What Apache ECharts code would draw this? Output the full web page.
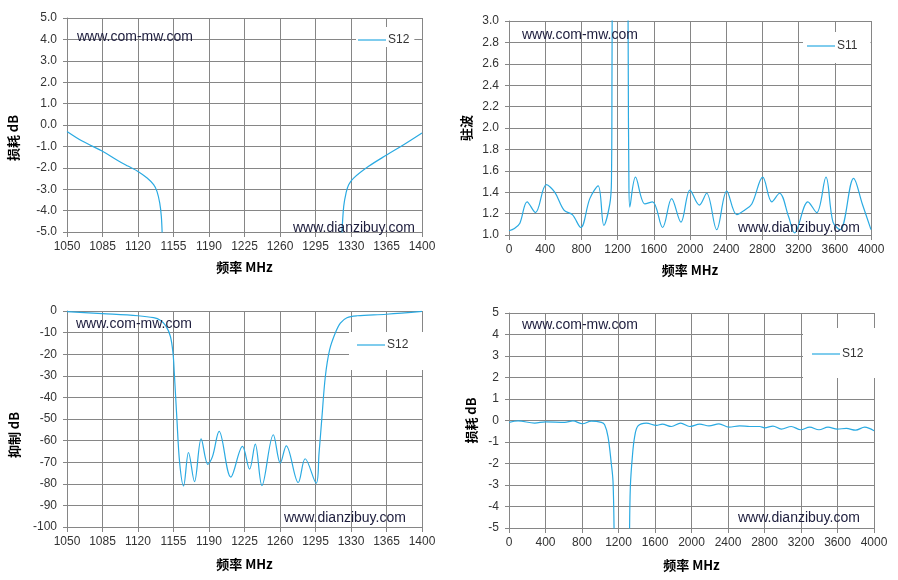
<!DOCTYPE html>
<html>
<head>
<meta charset="utf-8">
<title>滤波器测试曲线</title>
<script src="https://cdn.jsdelivr.net/npm/echarts@6/dist/echarts.min.js"></script>
<style>
html,body{margin:0;padding:0;background:#fff;}
#main{width:898px;height:580px;}
</style>
</head>
<body>
<div id="main"></div>
<script>
// 通带损耗 S12 (1050-1400MHz)，null 处断开
const passFreq = [1050, 1065, 1085, 1100, 1110, 1120, 1129, 1135.4, 1138.7, 1141.4, 1143, 1144, 1230,
                  1320.8, 1322.8, 1325.1, 1327.7, 1332.6, 1347.4, 1365.5, 1381.9, 1400];
const passLoss = [-0.3, -0.75, -1.23, -1.66, -1.92, -2.17, -2.48, -2.79, -3.1, -3.64, -4.27, -5.3, null,
                  -5.3, -3.8, -3.18, -2.79, -2.48, -1.93, -1.39, -0.92, -0.37];

// 驻波 S11 (0-4000MHz)
const vswrFreq = [0, 60, 120, 200, 292, 413, 505, 610, 700, 793, 893, 985, 1048, 1114, 1132, 1138, 1141, 1230,
                  1314, 1318, 1324, 1335, 1398, 1502, 1587, 1697, 1797, 1900, 2000, 2103, 2184, 2295, 2406,
                  2517, 2600, 2683, 2804, 2904, 2989, 3090, 3155, 3303, 3400, 3502, 3580, 3660, 3808, 3904, 4000];
const vswrValue = [1.04, 1.06, 1.11, 1.31, 1.21, 1.47, 1.40, 1.23, 1.19, 1.07, 1.34, 1.46, 1.09, 1.29, 1.5, 2.5, 3.5, null,
                   3.5, 2.5, 1.6, 1.26, 1.54, 1.29, 1.31, 1.07, 1.34, 1.12, 1.42, 1.28, 1.39, 1.05, 1.41,
                   1.19, 1.23, 1.29, 1.54, 1.31, 1.39, 1.17, 1.02, 1.31, 1.21, 1.54, 1.12, 1.05, 1.53, 1.29, 1.05];

// 带外抑制 S12 (1050-1400MHz)
const rejFreq = [1050, 1085, 1120, 1135.4, 1142, 1147.3, 1151.9, 1154.5, 1155.8, 1158.4, 1161.1, 1164.9,
                 1169.8, 1175.7, 1182.3, 1188.9, 1193.5, 1200, 1211.5, 1223, 1230, 1235.6, 1242.2, 1253.4,
                 1260.3, 1266.2, 1278, 1284.8, 1295.7, 1298.5, 1301.4, 1304.7, 1308.9, 1314.5, 1319.5,
                 1326, 1336, 1365, 1400];
const rejValue = [-0.3, -1.2, -2.2, -3.1, -4.3, -6.8, -11.7, -19.5, -28.7, -50.4, -70.5, -81,
                  -65.5, -79, -59.2, -71, -67.3, -55.7, -76.9, -62.7, -73.2, -61.6, -80.8, -57.3,
                  -70.4, -62.4, -79.4, -68.4, -79.7, -65.8, -48.8, -30.3, -18, -10.2, -5.6,
                  -3.1, -2.2, -1.5, -0.2];

// 宽带损耗 S12 (0-4000MHz)
const wideFreq = [0, 99, 281, 400, 610, 701, 804, 902, 1012, 1048, 1085, 1121, 1140, 1152, 1230,
                  1321, 1330, 1352, 1377, 1414, 1505, 1615, 1680, 1779, 1881, 1980, 2090, 2192, 2301, 2411,
                  2528, 2640, 2747, 2802, 2893, 2984, 3094, 3196, 3295, 3397, 3496, 3598, 3697, 3799, 3898, 4000];
const wideLoss = [-0.09, -0.02, -0.12, -0.06, -0.09, -0.02, -0.15, -0.03, -0.09, -0.2, -0.75, -2.0, -2.85, -5.3, null,
                  -5.3, -3.07, -1.68, -0.75, -0.25, -0.12, -0.23, -0.17, -0.28, -0.12, -0.28, -0.17, -0.25, -0.16, -0.31,
                  -0.25, -0.28, -0.28, -0.34, -0.26, -0.4, -0.28, -0.43, -0.31, -0.43, -0.31, -0.4, -0.37, -0.45, -0.31, -0.48];

const toPoints = (xs, ys) => xs.map((x, i) => [x, ys[i] === null ? '-' : ys[i]]);

const lineColor = '#2aaae2';
const gridColor = '#868686';
const labelFont = 'Liberation Sans, Arial, sans-serif';
const cjkFont = 'Noto Sans CJK SC, sans-serif';

const xAxisOf = (gridIndex, min, max, interval) => ({
    type: 'value',
    gridIndex: gridIndex,
    min: min,
    max: max,
    interval: interval,
    name: '频率 MHz',
    nameLocation: 'middle',
    nameGap: gridIndex < 2 ? 29 : 31,
    nameTextStyle: {fontFamily: cjkFont, fontWeight: 'bold', fontSize: 13, color: '#000'},
    axisLine: {onZero: false, lineStyle: {color: gridColor}},
    axisTick: {length: 5, lineStyle: {color: gridColor}},
    axisLabel: {margin: 9, color: '#333', fontSize: 12, fontFamily: labelFont,
                formatter: v => String(v)},
    splitLine: {show: true, lineStyle: {color: gridColor}}
});

const yAxisOf = (gridIndex, min, max, interval, name, gap, digits, pad) => ({
    type: 'value',
    gridIndex: gridIndex,
    min: min,
    max: max,
    interval: interval,
    name: name,
    nameLocation: 'middle',
    nameGap: gap,
    nameTextStyle: {fontFamily: cjkFont, fontWeight: 'bold', fontSize: 13, color: '#000', padding: [0, pad, 0, 0]},
    axisLine: {show: true, onZero: false, lineStyle: {color: gridColor}},
    axisTick: {show: true, length: 4, lineStyle: {color: gridColor}},
    axisLabel: {margin: 10, color: '#333', fontSize: 12, fontFamily: labelFont,
                formatter: v => v.toFixed(digits)},
    splitLine: {show: true, lineStyle: {color: gridColor}}
});

const seriesOf = (name, index, points) => ({
    name: name,
    type: 'line',
    xAxisIndex: index,
    yAxisIndex: index,
    data: points,
    symbol: 'none',
    smooth: 0.35,
    clip: true,
    lineStyle: {color: lineColor, width: 1.2},
    itemStyle: {color: lineColor}
});

const legendOf = (name, left, top, padding) => ({
    data: [name],
    left: left,
    top: top,
    orient: 'vertical',
    padding: padding,
    backgroundColor: '#fff',
    icon: 'rect',
    itemWidth: 28,
    itemHeight: 1.2,
    itemGap: 0,
    textStyle: {color: '#333', fontSize: 12, fontFamily: labelFont, padding: [0, 0, 0, -3], lineHeight: 14}
});

const watermark = (text, x, y) => ({
    type: 'text',
    x: x,
    y: y,
    z: 100,
    style: {text: text, fill: '#1c1c3c', font: '14px Liberation Sans, Arial, sans-serif', textVerticalAlign: 'middle'}
});

const options = {
    animation: false,
    backgroundColor: '#fff',
    grid: [
        {left: 67, top: 18, width: 355, height: 214},
        {left: 509, top: 21, width: 362, height: 214},
        {left: 67, top: 311, width: 355, height: 216},
        {left: 509, top: 313, width: 365, height: 215}
    ],
    xAxis: [
        xAxisOf(0, 1050, 1400, 35),
        xAxisOf(1, 0, 4000, 400),
        xAxisOf(2, 1050, 1400, 35),
        xAxisOf(3, 0, 4000, 400)
    ],
    yAxis: [
        yAxisOf(0, -5, 5, 1, '损耗 dB', 47, 1, 26),
        yAxisOf(1, 1, 3, 0.2, '驻波', 36, 1, 0),
        yAxisOf(2, -100, 0, 10, '抑制 dB', 46, 0, 32),
        yAxisOf(3, -5, 5, 1, '损耗 dB', 31, 0, 0)
    ],
    legend: [
        legendOf('S12', 356, 27, [6, 5, 0, 2]),
        legendOf('S11', 803, 32, [7, 13, 10, 4]),
        legendOf('S12', 349, 332, [6, 16, 18, 8]),
        legendOf('S12', 803, 328, [19, 16, 17, 9])
    ],
    series: [
        seriesOf('S12', 0, toPoints(passFreq, passLoss)),
        seriesOf('S11', 1, toPoints(vswrFreq, vswrValue)),
        seriesOf('S12', 2, toPoints(rejFreq, rejValue)),
        seriesOf('S12', 3, toPoints(wideFreq, wideLoss))
    ],
    graphic: [
        watermark('www.com-mw.com', 77, 37),
        watermark('www.dianzibuy.com', 293, 228),
        watermark('www.com-mw.com', 522, 35),
        watermark('www.dianzibuy.com', 738, 228),
        watermark('www.com-mw.com', 76, 324),
        watermark('www.dianzibuy.com', 284, 518),
        watermark('www.com-mw.com', 522, 325),
        watermark('www.dianzibuy.com', 738, 518)
    ]
};

const chart = echarts.init(document.getElementById('main'));
chart.setOption(options);
</script>
</body>
</html>
